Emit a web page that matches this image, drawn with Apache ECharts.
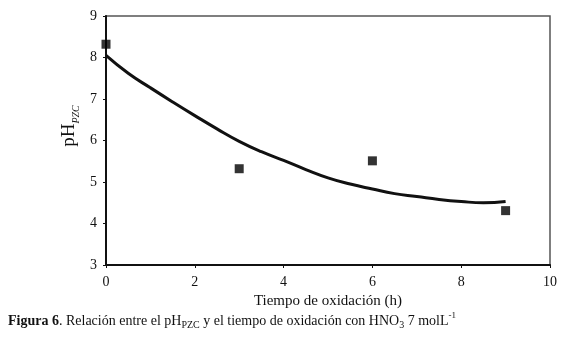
<!DOCTYPE html>
<html lang="es">
<head>
    <meta charset="utf-8">
    <title>pH PZC vs tiempo de oxidación</title>
    <script type="text/javascript" src="https://cdn.jsdelivr.net/npm/echarts@6/dist/echarts.min.js"></script>
    <style>
        html, body { margin: 0; padding: 0; background: #fff; }
        #main { width: 580px; height: 341px; }
    </style>
</head>
<body>
<div id="main"></div>
<script>
    // puntos experimentales
    var tiempoPuntos = [0, 3, 6, 9];
    var phPuntos = [8.32, 5.32, 5.51, 4.31];

    // curva de ajuste
    var tiempoCurva = [0, 0.5, 1, 1.5, 2, 2.5, 3, 3.5, 4, 4.5, 5, 5.5, 6, 6.5, 7, 7.5, 8, 8.5, 9];
    var phCurva = [8.05, 7.62, 7.27, 6.93, 6.6, 6.28, 5.98, 5.73, 5.52, 5.3, 5.1, 4.95, 4.83, 4.72, 4.65, 4.58, 4.53, 4.5, 4.53];

    var xTicks = [0, 2, 4, 6, 8, 10];
    var yTicks = [3, 4, 5, 6, 7, 8, 9];

    var serif = '"Liberation Serif", "DejaVu Serif", serif';

    var chartDom = document.getElementById('main');
    var myChart = echarts.init(chartDom);

    var puntos = tiempoPuntos.map(function (t, i) { return [t, phPuntos[i]]; });
    var curva = tiempoCurva.map(function (t, i) { return [t, phCurva[i]]; });

    var option = {
        animation: false,
        backgroundColor: '#fff',
        grid: {
            left: 106, right: 30, top: 16, bottom: 76,
            show: true,
            borderColor: '#555',
            borderWidth: 1.5
        },
        xAxis: {
            type: 'value',
            min: xTicks[0],
            max: xTicks[xTicks.length - 1],
            interval: 2,
            name: 'Tiempo de oxidación (h)',
            nameLocation: 'middle',
            nameGap: 29,
            nameTextStyle: { fontFamily: serif, fontSize: 15, color: '#111' },
            axisLine: { lineStyle: { color: '#111', width: 2 } },
            axisTick: { show: true, length: 3, lineStyle: { color: '#111' } },
            axisLabel: { fontFamily: serif, fontSize: 14, color: '#111', margin: 10 },
            splitLine: { show: false }
        },
        yAxis: {
            type: 'value',
            min: yTicks[0],
            max: yTicks[yTicks.length - 1],
            interval: 1,
            axisLine: { show: true, lineStyle: { color: '#111', width: 2 } },
            axisTick: { show: true, length: 3, lineStyle: { color: '#111' } },
            axisLabel: { fontFamily: serif, fontSize: 14, color: '#111', margin: 9 },
            splitLine: { show: false }
        },
        series: [
            {
                type: 'line',
                data: curva,
                smooth: true,
                showSymbol: false,
                lineStyle: { color: '#111', width: 3 },
                z: 2
            },
            {
                type: 'scatter',
                data: puntos,
                symbol: 'rect',
                symbolSize: 9,
                itemStyle: { color: '#000' },
                z: 3
            }
        ],
        graphic: [
            {
                // título del eje y (pH con subíndice PZC), girado
                type: 'text',
                x: 69,
                y: 126,
                rotation: Math.PI / 2,
                style: {
                    text: '{a|pH}{b|PZC}',
                    align: 'center',
                    verticalAlign: 'middle',
                    rich: {
                        a: { fontFamily: serif, fontSize: 19, fill: '#111', lineHeight: 20, verticalAlign: 'bottom' },
                        b: { fontFamily: serif, fontSize: 10, fontStyle: 'italic', fill: '#111', verticalAlign: 'bottom', padding: [0, 0, -2, 0] }
                    }
                }
            },
            {
                type: 'text',
                left: 8,
                top: 311,
                style: {
                    text: '{b|Figura 6}{n|. Relación entre el pH}{s|PZC}{n| y el tiempo de oxidación con HNO}{s|3}{n| 7 molL}{p|-1}',
                    rich: {
                        b: { fontFamily: serif, fontSize: 14, fontWeight: 'bold', fill: '#111', lineHeight: 17, verticalAlign: 'bottom' },
                        n: { fontFamily: serif, fontSize: 14, fill: '#111', lineHeight: 17, verticalAlign: 'bottom' },
                        s: { fontFamily: serif, fontSize: 10, fill: '#111', verticalAlign: 'bottom', padding: [0, 0, -2, 0] },
                        p: { fontFamily: serif, fontSize: 9, fill: '#111', verticalAlign: 'top' }
                    }
                }
            }
        ]
    };
    myChart.setOption(option);
</script>
</body>
</html>
